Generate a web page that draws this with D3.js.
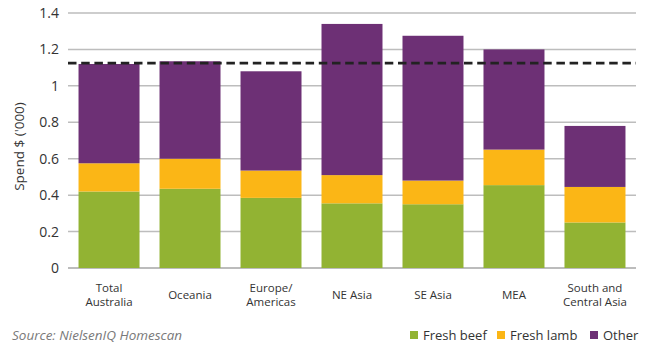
<!DOCTYPE html>
<html>
<head>
<meta charset="utf-8">
<script src="https://cdn.jsdelivr.net/npm/d3@7"></script>
<style>
  html, body { margin: 0; padding: 0; background: #fff; }
  svg { display: block; font-family: "Open Sans", "Noto Sans", sans-serif; }
</style>
</head>
<body>
<svg id="chart" width="649" height="346"></svg>
<script>
// Average spend per shopper by region, split by meat type
const categories = [["Total", "Australia"], ["Oceania"], ["Europe/", "Americas"], ["NE Asia"], ["SE Asia"], ["MEA"], ["South and", "Central Asia"]];
const freshBeef = [0.42, 0.435, 0.385, 0.355, 0.35, 0.455, 0.25];
const freshLamb = [0.155, 0.165, 0.15, 0.155, 0.13, 0.195, 0.195];
const other     = [0.545, 0.535, 0.545, 0.83, 0.795, 0.55, 0.335];
const averageLine = 1.125;
const yTicks = [0, 0.2, 0.4, 0.6, 0.8, 1, 1.2, 1.4];
const seriesNames = ["Fresh beef", "Fresh lamb", "Other"];
const seriesColors = ["#92b333", "#fbb616", "#6d3075"];

const svg = d3.select("#chart");
const plot = { left: 68, right: 636, top: 13, bottom: 268 };

const keys = categories.map(c => c.join(" "));
const rows = keys.map((k, i) => ({ key: k, "Fresh beef": freshBeef[i], "Fresh lamb": freshLamb[i], "Other": other[i] }));

const x = d3.scaleBand().domain(keys).range([plot.left, plot.right]).paddingInner(0.247).paddingOuter(0.13);
const y = d3.scaleLinear().domain([0, 1.4]).range([plot.bottom, plot.top]);

// horizontal gridlines
svg.append("g").selectAll("line").data(yTicks).join("line")
  .attr("x1", plot.left).attr("x2", plot.right)
  .attr("y1", d => y(d)).attr("y2", d => y(d))
  .attr("stroke", d => d === 0 ? "#a6a6a6" : "#bdbdbd")
  .attr("stroke-width", 1.5);

// y axis tick labels
const yAxis = d3.axisLeft(y).tickValues(yTicks).tickSize(0).tickPadding(9).tickFormat(d3.format("~g"));
const yg = svg.append("g").attr("transform", `translate(${plot.left},0)`).call(yAxis);
yg.select(".domain").remove();
yg.selectAll("text").attr("font-size", 14).attr("fill", "#333").attr("font-family", "'Open Sans', sans-serif");

// y axis title
svg.append("text")
  .attr("transform", `translate(24,${(plot.top + plot.bottom) / 2 + 6}) rotate(-90)`)
  .attr("text-anchor", "middle")
  .attr("font-size", 13.5).attr("fill", "#333")
  .text("Spend $ ('000)");

// stacked bars
const stack = d3.stack().keys(seriesNames)(rows);
svg.append("g").selectAll("g").data(stack).join("g")
  .attr("fill", (d, i) => seriesColors[i])
  .selectAll("rect").data(d => d).join("rect")
  .attr("x", d => x(d.data.key))
  .attr("width", x.bandwidth())
  .attr("y", d => y(d[1]))
  .attr("height", d => y(d[0]) - y(d[1]));

// average reference line
svg.append("line")
  .attr("x1", plot.left).attr("x2", plot.right)
  .attr("y1", y(averageLine)).attr("y2", y(averageLine))
  .attr("stroke", "#222").attr("stroke-width", 2.6)
  .attr("stroke-dasharray", "8.5,4.7");

// category labels
const cl = svg.append("g");
categories.forEach((lines, i) => {
  const cx = x(keys[i]) + x.bandwidth() / 2;
  const t = cl.append("text").attr("text-anchor", "middle").attr("font-size", 11.5).attr("fill", "#333");
  const y0 = lines.length === 2 ? 292 : 299;
  lines.forEach((s, j) => t.append("tspan").attr("x", cx).attr("y", y0 + j * 14).text(s));
});

// source note
svg.append("text").attr("x", 12).attr("y", 340)
  .attr("font-size", 13.5).attr("font-style", "italic").attr("fill", "#7a7a7a")
  .text("Source: NielsenIQ Homescan");

// legend
const legendX = [410, 497, 590];
const lg = svg.append("g");
seriesNames.forEach((s, i) => {
  lg.append("rect").attr("x", legendX[i]).attr("y", 331).attr("width", 8).attr("height", 8).attr("fill", seriesColors[i]);
  lg.append("text").attr("x", legendX[i] + 13).attr("y", 340).attr("font-size", 13).attr("fill", "#333").text(s);
});
</script>
</body>
</html>
